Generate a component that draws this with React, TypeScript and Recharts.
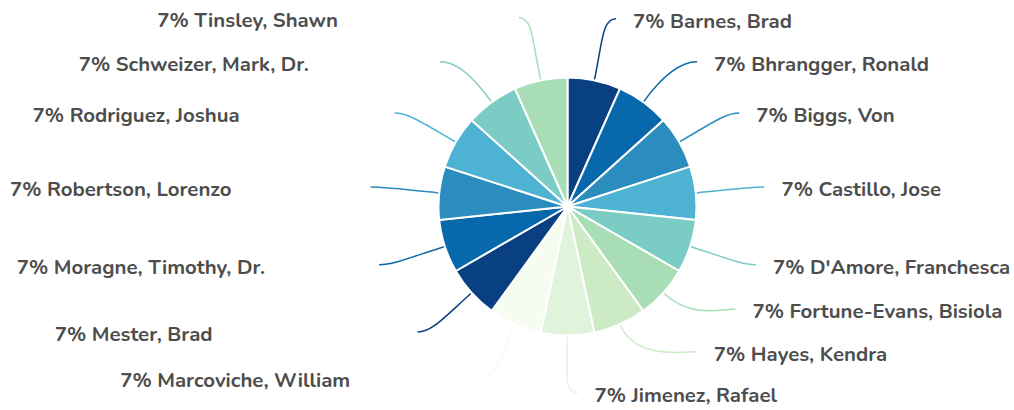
import { PieChart, Pie, Cell } from 'recharts';

// ── Data ──────────────────────────────────────────────────────────────────────
const NAMES = [
  'Barnes, Brad',
  'Bhrangger, Ronald',
  'Biggs, Von',
  'Castillo, Jose',
  "D'Amore, Franchesca",
  'Fortune-Evans, Bisiola',
  'Hayes, Kendra',
  'Jimenez, Rafael',
  'Marcoviche, William',
  'Mester, Brad',
  'Moragne, Timothy, Dr.',
  'Robertson, Lorenzo',
  'Rodriguez, Joshua',
  'Schweizer, Mark, Dr.',
  'Tinsley, Shawn',
];
const SHARES = [7, 7, 7, 7, 7, 7, 7, 7, 7, 7, 7, 7, 7, 7, 7];

// GnBu, dark to light, cycled over the slices
const PALETTE = ['#084081', '#0868ac', '#2b8cbe', '#4eb3d3', '#7bccc4', '#a8ddb5', '#ccebc5', '#e0f3db', '#f7fcf0'];

// ── Label layout (leader-line end nudges, text gap) ───────────────────────────
const LABEL_NUDGE: [number, number][] = [
  [8, 3], [15, 13], [3, 4], [3, 1], [3, -2], [23, -28], [50, -33], [10, -9],
  [-6, -7], [-5, -5], [-3, -2], [-3, 1], [-4, 4], [-13, 13], [-8, 2],
];
const TEXT_GAP = [17, 17, 17, 17, 17, 17, 17, 17, 132, 205, 114, 139, 155, 131, 181];

const data = NAMES.map((name, i) => ({ name, value: SHARES[i] }));

const RAD = Math.PI / 180;
const CX = 567.5;
const CY = 206.5;
const OUTER = 129;
const LINE_R = 195;
const CTRL_R = 168;
const HOOK = 14;

function polar(cx: number, cy: number, r: number, angle: number) {
  return { x: cx + r * Math.cos(-angle * RAD), y: cy + r * Math.sin(-angle * RAD) };
}

function renderLabel(props: any) {
  const { cx, cy, midAngle, outerRadius, index, value } = props;
  const p0 = polar(cx, cy, outerRadius + 1, midAngle);
  const c1 = polar(cx, cy, CTRL_R, midAngle);
  const d = polar(cx, cy, LINE_R, midAngle);
  const end = { x: d.x + LABEL_NUDGE[index][0], y: d.y + LABEL_NUDGE[index][1] };
  const right = end.x > cx;
  const dir = right ? 1 : -1;
  const tx = end.x + dir * TEXT_GAP[index];
  const color = PALETTE[index % PALETTE.length];
  return (
    <g key={`lbl-${index}`}>
      <path
        d={`M${p0.x},${p0.y} C${c1.x},${c1.y} ${end.x - dir * HOOK},${end.y} ${end.x},${end.y}`}
        stroke={color}
        strokeWidth={1.5}
        fill="none"
      />
      <text
        x={tx}
        y={end.y + 2}
        textAnchor={right ? 'start' : 'end'}
        dominantBaseline="central"
        fill="#4d4d4d"
        fontSize={20.4}
        fontWeight={700}
        fontFamily="Nunito, Lato, sans-serif"
      >
        {`${value}% ${NAMES[index]}`}
      </text>
    </g>
  );
}

export default function App() {
  return (
    <div style={{ position: 'absolute', left: 0, top: 0, background: '#fff' }}>
      <PieChart width={1014} height={410} margin={{ top: 0, right: 0, bottom: 0, left: 0 }}>
        <Pie
          data={data}
          dataKey="value"
          nameKey="name"
          cx={CX}
          cy={CY}
          outerRadius={OUTER}
          startAngle={90}
          endAngle={-270}
          stroke="#ffffff"
          strokeWidth={2}
          label={renderLabel}
          labelLine={false}
          isAnimationActive={false}
        >
          {data.map((entry, i) => (
            <Cell key={entry.name} fill={PALETTE[i % PALETTE.length]} />
          ))}
        </Pie>
      </PieChart>
    </div>
  );
}
